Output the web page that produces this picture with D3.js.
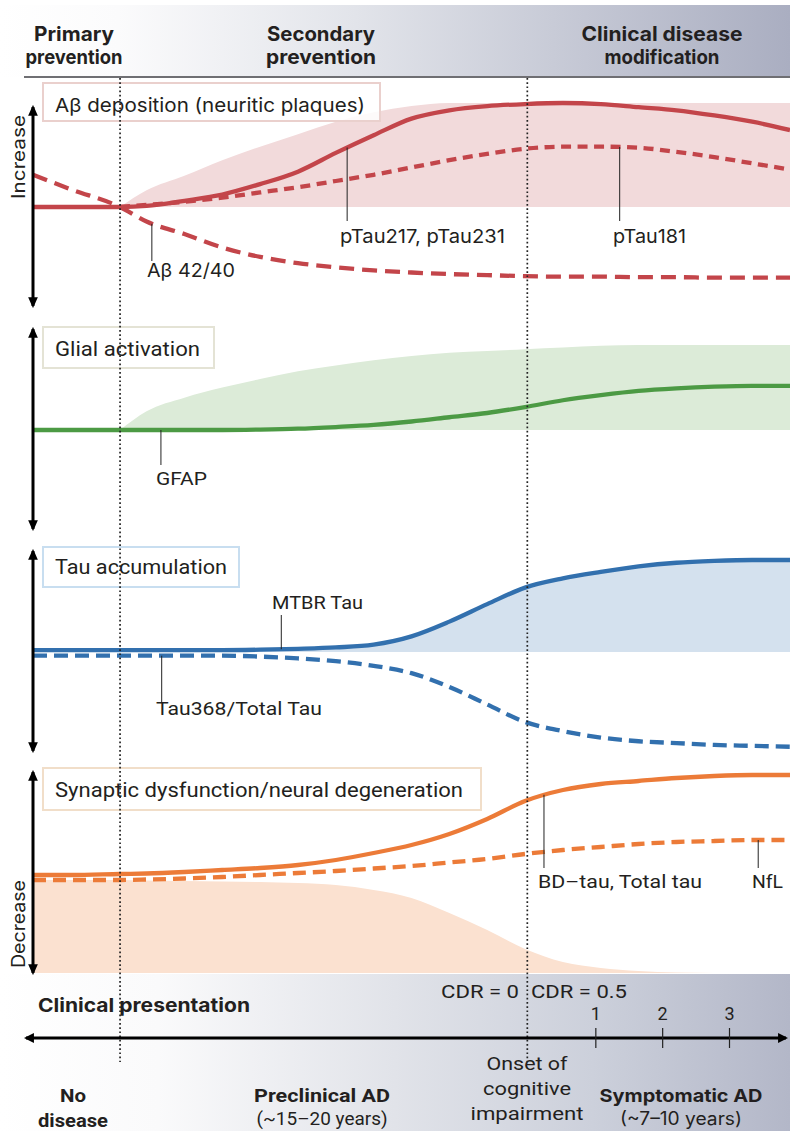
<!DOCTYPE html>
<html><head><meta charset="utf-8">
<script src="https://cdn.jsdelivr.net/npm/d3@7"></script>
<style>body{margin:0;background:#fff}svg{display:block}</style>
</head><body>
<svg id="c" width="790" height="1131"></svg>
<script>
// ---------- DATA ----------
// disease stage (0 = left axis, 100 = right edge)
const stages = [0, 5, 11.5, 15, 20, 25, 30, 35, 40, 45, 50, 55, 60, 65, 70, 75, 80, 85, 90, 95, 100];
const phaseLabels = [["Primary","prevention"],["Secondary","prevention"],["Clinical disease","modification"]];
const panelTitles = ["A\u03b2 deposition (neuritic plaques)","Glial activation","Tau accumulation","Synaptic dysfunction/neural degeneration"];
// panel 1 : amyloid
const abRange = [null, null, 0, 0.16, 0.30, 0.45, 0.58, 0.70, 0.82, 0.91, 0.97, 1, 1, 1, 1, 1, 1, 1, 1, 1, 1];
const pTau217 = [0, 0, 0, 0.01, 0.06, 0.12, 0.22, 0.34, 0.52, 0.69, 0.85, 0.93, 0.97, 0.99, 1.0, 0.99, 0.96, 0.93, 0.88, 0.82, 0.74];
const pTau181 = [null, null, 0, 0.02, 0.05, 0.09, 0.14, 0.19, 0.25, 0.31, 0.38, 0.45, 0.51, 0.56, 0.58, 0.58, 0.57, 0.53, 0.48, 0.42, 0.36];
const ab4240  = [0.31, 0.17, 0, -0.14, -0.26, -0.39, -0.48, -0.54, -0.58, -0.61, -0.63, -0.645, -0.655, -0.665, -0.67, -0.67, -0.675, -0.675, -0.68, -0.68, -0.68];
// panel 2 : glial
const glialRange = [null, null, 0, 0.22, 0.38, 0.50, 0.60, 0.69, 0.76, 0.82, 0.87, 0.91, 0.93, 0.95, 0.97, 0.99, 1, 1, 1, 1, 1];
const gfap       = [0, 0, 0, 0, 0, 0, 0.005, 0.015, 0.035, 0.06, 0.10, 0.15, 0.20, 0.27, 0.35, 0.41, 0.46, 0.49, 0.51, 0.52, 0.52];
// panel 3 : tau
const mtbrTau = [0.02, 0.02, 0.02, 0.02, 0.02, 0.02, 0.025, 0.035, 0.05, 0.08, 0.17, 0.33, 0.52, 0.70, 0.80, 0.87, 0.93, 0.97, 0.99, 1, 1];
const tau368  = [-0.04, -0.04, -0.04, -0.04, -0.04, -0.04, -0.05, -0.07, -0.10, -0.15, -0.23, -0.38, -0.57, -0.76, -0.86, -0.93, -0.97, -0.99, -1.01, -1.02, -1.03];
// panel 4 : neurodegeneration
const bdTau    = [0, 0, 0.01, 0.015, 0.03, 0.05, 0.07, 0.10, 0.15, 0.22, 0.30, 0.41, 0.56, 0.74, 0.85, 0.91, 0.94, 0.97, 0.99, 1, 1];
const nfl      = [-0.05, -0.05, -0.05, -0.045, -0.035, -0.02, 0, 0.02, 0.04, 0.065, 0.09, 0.125, 0.16, 0.21, 0.25, 0.28, 0.31, 0.33, 0.34, 0.35, 0.35];
const synRange = [-0.05, -0.05, -0.05, -0.055, -0.06, -0.065, -0.07, -0.08, -0.10, -0.15, -0.23, -0.38, -0.55, -0.74, -0.87, -0.93, -0.96, -0.975, -0.98, -0.98, -0.98];
const synFloor = -0.98;
// phase boundaries (stage)
const boundaries = [11.5, 65.3];
// clinical axis
const cdrYears = [1, 2, 3];
const cdrLabels = ["CDR = 0", "CDR = 0.5"];
const bottomPhases = [["No","disease"],["Preclinical AD","(~15\u201320 years)"],["Onset of","cognitive","impairment"],["Symptomatic AD","(~7\u201310 years)"]];

// ---------- SETUP ----------
const svg = d3.select("#c");
const W = 790, H = 1131;
const x = d3.scaleLinear().domain([0, 100]).range([33, 790]);
const defs = svg.append("defs");

function grad(id, stops) {
  const g = defs.append("linearGradient").attr("id", id).attr("x1","0").attr("x2","1").attr("y1","0").attr("y2","0");
  stops.forEach(s => g.append("stop").attr("offset", s[0]).attr("stop-color", s[1]));
}
grad("hdr", [[0,"#ffffff"],[0.15,"#fbfbfc"],[0.45,"#e2e4ea"],[0.7,"#c8cbd7"],[1,"#aaaec1"]]);
grad("ftr", [[0,"#ffffff"],[0.2,"#fafafb"],[0.5,"#e1e3e9"],[0.75,"#ccd0db"],[1,"#b3b7c8"]]);

function txt(g, s, o) {
  const t = g.append("text").text(s)
    .attr("x", o.x).attr("y", o.y)
    .attr("text-anchor", o.anchor || "start")
    .attr("font-family", o.font || "Roboto, sans-serif")
    .attr("font-size", o.size || 18)
    .attr("font-weight", o.weight || 400)
    .attr("fill", o.fill || "#231f20");
  if (o.width) t.attr("textLength", o.width).attr("lengthAdjust", "spacingAndGlyphs");
  if (o.rotate) t.attr("transform", `rotate(${o.rotate},${o.x},${o.y})`);
  return t;
}

// header band
svg.append("rect").attr("x",0).attr("y",5).attr("width",W).attr("height",72).attr("fill","url(#hdr)");
svg.append("line").attr("x1",24).attr("x2",W).attr("y1",77).attr("y2",77).attr("stroke","#6f6f73").attr("stroke-width",2);
// footer band
svg.append("rect").attr("x",0).attr("y",974).attr("width",W).attr("height",H-974).attr("fill","url(#ftr)");

const hdrPos = [{cx:74,w:[80,97]},{cx:321,w:[108,110]},{cx:662,w:[161,115]}];
phaseLabels.forEach((ls,i) => ls.forEach((s,j) => txt(svg, s, {x:hdrPos[i].cx, y:[41,64][j], anchor:"middle", size:20, weight:700, font:"Inter, sans-serif", width:hdrPos[i].w[j]})));

// ---------- PANELS ----------
const panels = [
  {base:207, top:103, arrow:[103,310], title:panelTitles[0], box:[43,83,337,38], tw:310, tb:112, border:"#ead0cd", font:"Inter",
   line:"#c3454a", fill:"#f2dadb",
   area:{top:abRange, bottom:0},
   series:[{v:pTau217},{v:pTau181, dash:"10,6.5"},{v:ab4240, dash:"15,8"}]},
  {base:430, top:345, arrow:[325,533], title:panelTitles[1], box:[43,327,171,41], tw:145, tb:356, border:"#e4e3d5", font:"Roboto",
   line:"#4c9a44", fill:"#dcebd8",
   area:{top:glialRange, bottom:0},
   series:[{v:gfap}]},
  {base:652, top:560, arrow:[547,755], title:panelTitles[2], box:[43,547,196,40], tw:172, tb:574, border:"#c8def0", font:"Roboto",
   line:"#3270ae", fill:"#d4e1ee",
   area:{top:mtbrTau, bottom:0},
   series:[{v:mtbrTau},{v:tau368, dash:"14,7"}]},
  {base:875, top:775, arrow:[768,977], title:panelTitles[3], box:[43,768,438,42], tw:408, tb:797, border:"#f1dec9", font:"Roboto",
   line:"#ec7b38", fill:"#fbe1d0",
   area:{top:synRange, bottom:synFloor},
   series:[{v:bdTau},{v:nfl, dash:"13,7"}]}
];

panels.forEach((p, pi) => {
  const y = d3.scaleLinear().domain([0,1]).range([p.base, p.top]);
  const g = svg.append("g");
  const rows = stages.map((s,i) => ({s, t:p.area.top[i]}));
  const area = d3.area().defined(d => d.t != null)
     .x(d => x(d.s)).y0(y(p.area.bottom)).y1(d => y(d.t)).curve(d3.curveMonotoneX);
  g.append("path").datum(rows).attr("d", area).attr("fill", p.fill);
  p.nodes = [];
  const order = p.series.map((s,i)=>i).sort((a,b)=> (p.series[b].dash?1:0) - (p.series[a].dash?1:0));
  order.forEach(si => {
    const s = p.series[si];
    const line = d3.line().defined(d => d.v != null).x(d => x(d.s)).y(d => y(d.v)).curve(d3.curveMonotoneX);
    p.nodes[si] = g.append("path").datum(stages.map((st,i)=>({s:st, v:s.v[i]})))
      .attr("d", line).attr("fill","none").attr("stroke", p.line)
      .attr("stroke-width", 4.3).attr("stroke-dasharray", s.dash || null)
      .attr("stroke-linecap", "butt").node();
  });
  g.append("rect").attr("x",p.box[0]).attr("y",p.box[1]).attr("width",p.box[2]).attr("height",p.box[3])
    .attr("fill","#fff").attr("fill-opacity",0.85).attr("stroke",p.border).attr("stroke-width",2);
  txt(g, p.title, {x:55, y:p.tb, size:p.font==="Inter"?19:20, width:p.tw, font:p.font+", sans-serif"});
});

// dotted boundaries
boundaries.forEach(b => svg.append("line").attr("x1",x(b)).attr("x2",x(b)).attr("y1",78).attr("y2",1062)
  .attr("stroke","#222").attr("stroke-width",1.7).attr("stroke-dasharray","1.7,2.5"));

// left double arrows
defs.append("marker").attr("id","ah").attr("viewBox","0 0 10 10").attr("refX",8).attr("refY",5)
  .attr("markerWidth",3.6).attr("markerHeight",3.6).attr("orient","auto-start-reverse")
  .append("path").attr("d","M0,0.5 L10,5 L0,9.5 z").attr("fill","#000");
panels.forEach(p => svg.append("line").attr("x1",33).attr("x2",33).attr("y1",p.arrow[0]+4).attr("y2",p.arrow[1]-4)
  .attr("stroke","#000").attr("stroke-width",3).attr("marker-start","url(#ah)").attr("marker-end","url(#ah)"));
txt(svg, "Increase", {x:25, y:157, anchor:"middle", size:18, width:84, rotate:-90, font:"Inter, sans-serif"});
txt(svg, "Decrease", {x:25, y:924, anchor:"middle", size:18, width:88, rotate:-90, font:"Inter, sans-serif"});

// ---------- LEADER LABELS ----------
function yOnPath(node, px) {
  let lo = 0, hi = node.getTotalLength();
  for (let k = 0; k < 40; k++) { const m = (lo+hi)/2; if (node.getPointAtLength(m).x < px) lo = m; else hi = m; }
  return node.getPointAtLength(lo).y;
}
const leaders = [
  {p:0, s:2, stage:15.7, end:261, text:"A\u03b2 42/40", tx:147, ty:277, w:88, font:"Inter"},
  {p:0, s:0, stage:41.5, end:221, text:"pTau217, pTau231", tx:340, ty:243, w:165, font:"Inter"},
  {p:0, s:1, stage:77.5, end:221, text:"pTau181", tx:613, ty:243, w:73, font:"Inter"},
  {p:1, s:0, stage:16.9, end:465, text:"GFAP", tx:156, ty:485, w:51, font:"Roboto"},
  {p:2, s:0, stage:32.8, end:615, text:"MTBR Tau", tx:272, ty:609, w:91, font:"Roboto"},
  {p:2, s:1, stage:17.0, end:702, text:"Tau368/Total Tau", tx:156, ty:715, w:166, font:"Roboto"},
  {p:3, s:0, stage:67.5, end:868, text:"BD\u2013tau, Total tau", tx:538, ty:888, w:164, font:"Roboto"},
  {p:3, s:1, stage:95.8, end:868, text:"NfL", tx:752, ty:888, w:31, font:"Roboto"}
];
leaders.forEach(l => {
  const node = panels[l.p].nodes[l.s];
  const px = x(l.stage), py = yOnPath(node, px);
  svg.append("line").attr("x1",px).attr("x2",px).attr("y1",py).attr("y2",l.end).attr("stroke","#222").attr("stroke-width",1);
  txt(svg, l.text, {x:l.tx, y:l.ty, size:19, width:l.w, font:l.font+", sans-serif"});
});

// ---------- CLINICAL AXIS ----------
txt(svg, "Clinical presentation", {x:38, y:1012, size:19, weight:700, width:212, font:"Inter, sans-serif"});
txt(svg, cdrLabels[0], {x:441, y:998, size:18, width:78});
txt(svg, cdrLabels[1], {x:531, y:998, size:18, width:96});
const yr = d3.scaleLinear().domain([0,3]).range([528.5,729]);
defs.append("marker").attr("id","ah2").attr("viewBox","0 0 10 10").attr("refX",8).attr("refY",5)
  .attr("markerWidth",4).attr("markerHeight",3.3).attr("orient","auto-start-reverse")
  .append("path").attr("d","M0,0 L10,5 L0,10 z").attr("fill","#000");
svg.append("line").attr("x1",26).attr("x2",786).attr("y1",1038).attr("y2",1038)
  .attr("stroke","#000").attr("stroke-width",3).attr("marker-start","url(#ah2)").attr("marker-end","url(#ah2)");
const ax = svg.append("g").attr("transform","translate(0,1038)")
  .call(d3.axisTop(yr).tickValues(cdrYears).tickFormat(d3.format("d")).tickSize(10).tickPadding(8));
ax.select(".domain").remove();
ax.selectAll(".tick line").attr("y1",10).attr("y2",-10).attr("stroke","#222").attr("stroke-width",1.2);
ax.selectAll(".tick text").attr("font-family","Roboto, sans-serif").attr("font-size",18).attr("fill","#231f20");

// bottom phases
txt(svg, bottomPhases[0][0], {x:73, y:1102, anchor:"middle", size:18, weight:700, width:26});
txt(svg, bottomPhases[0][1], {x:73, y:1127, anchor:"middle", size:18, weight:700, width:70});
txt(svg, bottomPhases[1][0], {x:322, y:1102, anchor:"middle", size:18, weight:700, width:136});
txt(svg, bottomPhases[1][1], {x:322, y:1125, anchor:"middle", size:18, width:131});
[[81,1070],[88,1095],[113,1120]].forEach((w,i) => txt(svg, bottomPhases[2][i], {x:527, y:w[1], anchor:"middle", size:18, width:w[0]}));
txt(svg, bottomPhases[3][0], {x:681, y:1102, anchor:"middle", size:18, weight:700, width:163, font:"Inter, sans-serif"});
txt(svg, bottomPhases[3][1], {x:681, y:1125, anchor:"middle", size:18, width:122, font:"Inter, sans-serif"});
</script>
</body></html>
